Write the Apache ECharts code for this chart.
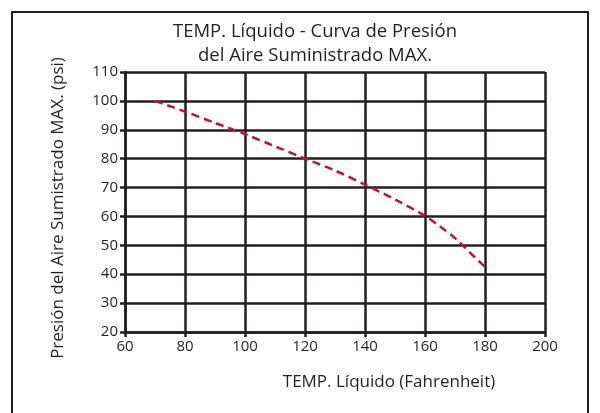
<!DOCTYPE html>
<html>
<head>
<meta charset="utf-8">
<script src="https://cdn.jsdelivr.net/npm/echarts@6/dist/echarts.min.js"></script>
<style>
html,body{margin:0;padding:0;background:#fff;}
#c{width:600px;height:413px;}
</style>
</head>
<body>
<div id="c"></div>
<script>
var titleLines = ['TEMP. Líquido - Curva de Presión', 'del Aire Suministrado MAX.'];
var xName = 'TEMP. Líquido (Fahrenheit)';
var yName = 'Presión del Aire Sumistrado MAX. (psi)';
var tempF = [70, 80, 90, 100, 110, 120, 130, 140, 150, 160, 165, 170, 175, 180];
var pressurePsi = [100, 96.3, 92.4, 88.5, 84.3, 80, 75.9, 71, 65.9, 60.2, 56.5, 52.5, 47.5, 42.5];

var ink = '#231f20';
var font = '"Open Sans", "Noto Sans", sans-serif';
var chart = echarts.init(document.getElementById('c'));
chart.setOption({
  animation: false,
  backgroundColor: '#fff',
  graphic: [
    {type: 'rect', shape: {x: 12, y: 12, width: 576, height: 420}, style: {fill: 'none', stroke: ink, lineWidth: 2}, z: 0},
    {type: 'text', x: 315, y: 32, style: {text: titleLines[0], font: '18.5px ' + font, fill: ink, align: 'center', verticalAlign: 'middle'}},
    {type: 'text', x: 315, y: 56, style: {text: titleLines[1], font: '18.5px ' + font, fill: ink, align: 'center', verticalAlign: 'middle'}},
    {type: 'text', x: 389, y: 382, style: {text: xName, font: '17px ' + font, fill: ink, align: 'center', verticalAlign: 'middle'}},
    {type: 'text', x: 58, y: 208, rotation: Math.PI / 2, style: {text: yName, font: '17px ' + font, fill: ink, align: 'center', verticalAlign: 'middle'}}
  ],
  grid: {left: 125, right: 55, top: 72, bottom: 81, containLabel: false},
  xAxis: {
    type: 'value', min: 60, max: 200, interval: 20,
    axisLine: {show: true, lineStyle: {color: ink, width: 2.5}},
    axisTick: {show: true, length: 5, lineStyle: {color: ink, width: 2.5}},
    axisLabel: {color: ink, fontSize: 15, fontFamily: font, margin: 7},
    splitLine: {show: true, lineStyle: {color: ink, width: 2.5}}
  },
  yAxis: {
    type: 'value', min: 20, max: 110, interval: 10,
    axisLine: {show: true, lineStyle: {color: ink, width: 2.5}},
    axisTick: {show: true, length: 5, lineStyle: {color: ink, width: 2.5}},
    axisLabel: {color: ink, fontSize: 15, fontFamily: font, margin: 7},
    splitLine: {show: true, lineStyle: {color: ink, width: 2.5}}
  },
  series: [{
    type: 'line',
    data: tempF.map(function (t, i) { return [t, pressurePsi[i]]; }),
    smooth: 0.3,
    symbol: 'none',
    lineStyle: {color: '#c8102e', width: 2.5, type: [8, 5]},
    z: 5
  }]
});
</script>
</body>
</html>
